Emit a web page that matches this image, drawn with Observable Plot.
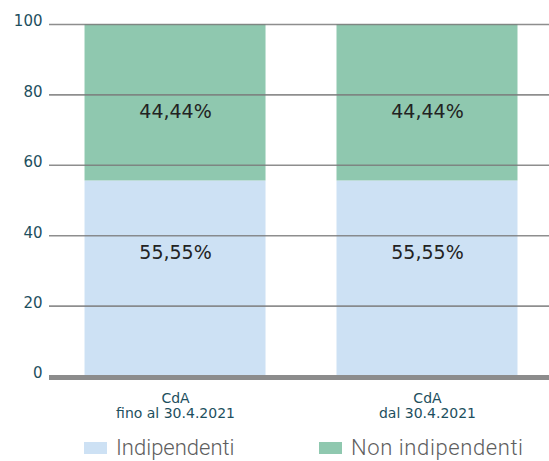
<!DOCTYPE html>
<html>
<head>
<meta charset="utf-8">
<script src="https://cdn.jsdelivr.net/npm/d3@7"></script>
<script src="https://cdn.jsdelivr.net/npm/@observablehq/plot@0.6"></script>
<style>
  body { margin: 0; background: #fff; font-family: "DejaVu Sans", sans-serif; }
  #chart { width: 549px; height: 432px; }
  .legend { position: relative; height: 29px; width: 549px; color: #5e5e5e; font-family: "Roboto", sans-serif; font-weight: 300; font-size: 22px; }
  .item { position: absolute; top: 4px; display: flex; align-items: center; line-height: 24px; }
  .sw { width: 23px; height: 12px; margin-right: 9px; }
</style>
</head>
<body>
<div id="chart"></div>
<script>
const categories = ["CdA\nfino al 30.4.2021", "CdA\ndal 30.4.2021"];
const series = ["Indipendenti", "Non indipendenti"];
const valuesIndipendenti = [55.55, 55.55];
const valuesNonIndipendenti = [44.44, 44.44];
const labelsIndipendenti = ["55,55%", "55,55%"];
const labelsNonIndipendenti = ["44,44%", "44,44%"];
const yTicks = [0, 20, 40, 60, 80, 100];
const colors = ["#cde1f4", "#8fc8af"];

const data = [];
categories.forEach((c, i) => {
  data.push({cat: c, series: series[0], value: valuesIndipendenti[i], label: labelsIndipendenti[i]});
  data.push({cat: c, series: series[1], value: valuesNonIndipendenti[i], label: labelsNonIndipendenti[i]});
});

const plot = Plot.plot({
  width: 549,
  height: 432,
  marginTop: 24,
  marginBottom: 56,
  marginLeft: 49,
  marginRight: 0,
  style: {fontFamily: "DejaVu Sans, sans-serif", color: "#1d4f5e"},
  x: {domain: categories, paddingInner: 0.2817, paddingOuter: 0.133, align: 0.53, round: false, label: null},
  y: {domain: [0, 100], ticks: yTicks, label: null},
  color: {domain: series, range: colors},
  marks: [
    Plot.barY(data, Plot.stackY({x: "cat", y: "value", fill: "series", order: series})),
    Plot.gridY(yTicks.filter(d => d > 0), {stroke: "#7a7a7a", strokeOpacity: 0.85, strokeWidth: 1.6}),
    Plot.ruleY([0], {stroke: "#8c8c8c", strokeWidth: 5, dy: 1}),
    Plot.text(data, Plot.stackY({x: "cat", y: "value", z: "series", order: series, text: d => d.series === series[0] ? d.label : null, fontSize: 19, fill: "#222", dy: -26})),
    Plot.text(data, Plot.stackY({x: "cat", y: "value", z: "series", order: series, text: d => d.series === series[1] ? d.label : null, fontSize: 19, fill: "#222", dy: 9})),
    Plot.axisY({ticks: yTicks, tickSize: 0, tickPadding: 7, fontSize: 15, dy: -3, fill: "#1d4f5e"}),
    Plot.axisX({tickSize: 0, tickPadding: 16, fontSize: 14, lineHeight: 1.08, fill: "#1d4f5e"})
  ]
});
document.getElementById("chart").appendChild(plot);
</script>
<div class="legend">
  <div class="item" style="left:84px"><div class="sw" style="background:#cde1f4"></div><span>Indipendenti</span></div>
  <div class="item" style="left:319px"><div class="sw" style="background:#8fc8af"></div><span style="letter-spacing:0.6px">Non indipendenti</span></div>
</div>
</body>
</html>
